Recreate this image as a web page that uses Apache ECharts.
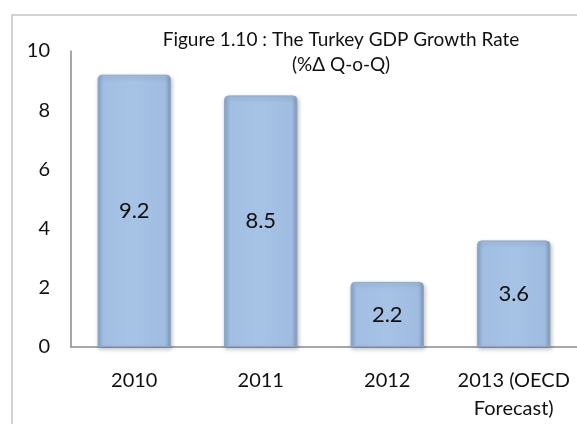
<!DOCTYPE html>
<html>
<head>
<meta charset="utf-8">
<script src="https://cdn.jsdelivr.net/npm/echarts@6/dist/echarts.min.js"></script>
<style>
html,body{margin:0;padding:0;background:#fff;}
#c{width:577px;height:424px;}
</style>
</head>
<body>
<div id="c"></div>
<script>
const categories = ['2010', '2011', '2012', '2013 (OECD\nForecast)'];
const growth = [9.2, 8.5, 2.2, 3.6];
const titleLines = ['Figure 1.10 : The Turkey GDP Growth Rate', '(%\u0394 Q-o-Q)'];

const chart = echarts.init(document.getElementById('c'));
const FONT = 'Lato, "Open Sans", sans-serif';
chart.setOption({
  animation: false,
  backgroundColor: '#fff',
  graphic: [{
    type: 'rect',
    shape: {x: 12, y: 15, width: 600, height: 450},
    style: {fill: 'none', stroke: '#c4c4c4', lineWidth: 1.5},
    z: 0
  }],
  title: {
    text: titleLines.join('\n'),
    left: 336, top: 22, textAlign: 'center',
    textStyle: {fontFamily: FONT, fontSize: 19, fontWeight: 'normal', color: '#111', lineHeight: 25}
  },
  grid: {left: 71, right: -5, top: 51, bottom: 77, containLabel: false},
  xAxis: {
    type: 'category',
    data: categories,
    axisLine: {lineStyle: {color: '#8a8a8a', width: 1.5}},
    axisTick: {show: false},
    axisLabel: {fontFamily: FONT, fontSize: 20, color: '#111', margin: 20, lineHeight: 28, interval: 0}
  },
  yAxis: {
    type: 'value', min: 0, max: 10, interval: 2,
    splitLine: {show: false},
    axisLine: {show: true, lineStyle: {color: '#8a8a8a', width: 1.5}},
    axisTick: {show: false},
    axisLabel: {fontFamily: FONT, fontSize: 20, color: '#111', margin: 21}
  },
  series: [{
    type: 'bar',
    data: growth,
    barCategoryGap: '42%',
    itemStyle: {
      color: new echarts.graphic.LinearGradient(0, 0, 1, 0, [
        {offset: 0, color: '#88a6cc'},
        {offset: 0.08, color: '#a2bfe3'},
        {offset: 0.5, color: '#a6c2e5'},
        {offset: 0.92, color: '#a0bce0'},
        {offset: 1, color: '#7f98b8'}
      ]),
      borderColor: '#8ea6c4',
      borderWidth: 1,
      borderRadius: [4, 4, 0, 0],
      shadowColor: 'rgba(0,0,0,0.25)',
      shadowBlur: 4,
      shadowOffsetX: 1,
      shadowOffsetY: 2
    },
    label: {
      show: true, position: 'inside',
      fontFamily: FONT, fontSize: 22, color: '#111'
    }
  }]
});
</script>
</body>
</html>
